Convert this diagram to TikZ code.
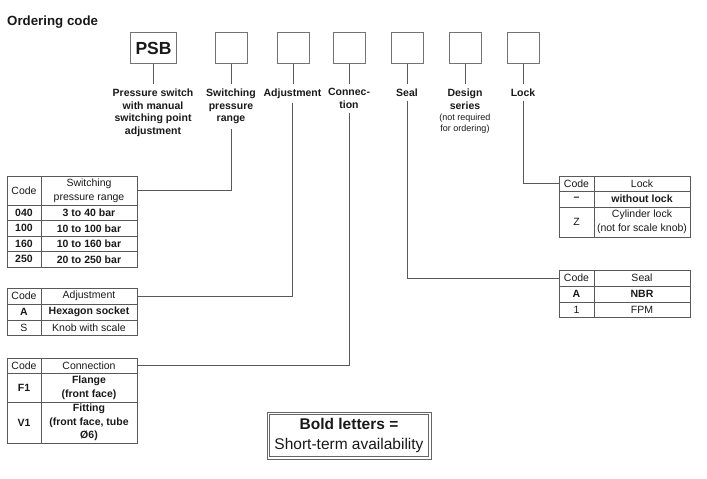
\documentclass[tikz,border=0pt]{standalone}
\usepackage{fontspec}
\setmainfont{Liberation Sans}
\begin{document}
\begin{tikzpicture}[x=1pt,y=-1pt,
  txt/.style={text=black!90},
  lbl/.style={txt,font=\fontsize{10.5}{12.9}\selectfont\bfseries, align=center, inner sep=0pt, outer ysep=4.5pt, anchor=north},
  cbox/.style={draw=black!55, line width=1.1pt, minimum height=31pt, inner sep=0pt, anchor=north west},
  conn/.style={draw=black!65, line width=0.8pt},
  cell/.style 2 args={txt,draw=black!65, line width=0.9pt, inner sep=0pt, outer sep=0pt, anchor=north west, align=center,
    minimum width=#1pt, minimum height=#2pt, font=\fontsize{10.5}{13.6}\selectfont},
  bcell/.style 2 args={cell={#1}{#2}, font=\fontsize{10.5}{13.6}\selectfont\bfseries},
  note/.style={draw=black!60, line width=0.8pt, inner sep=0pt,
    minimum width=164pt, minimum height=47pt, align=center, txt, font=\fontsize{15.5}{20}\selectfont}
]
\useasboundingbox (0,0) rectangle (707,479);

\node[txt, anchor=base west, inner sep=0pt, font=\fontsize{13.3}{16}\selectfont\bfseries] (title) at (7,25) {Ordering code};

% code boxes
\node[cbox, minimum width=46pt, font=\fontsize{17.5}{20}\selectfont\bfseries, txt] (b1) at (130,32) {PSB};
\node[cbox, minimum width=32pt] (b2) at (215,32) {};
\node[cbox, minimum width=32pt] (b3) at (277,32) {};
\node[cbox, minimum width=32pt] (b4) at (333,32) {};
\node[cbox, minimum width=32pt] (b5) at (391,32) {};
\node[cbox, minimum width=32pt] (b6) at (449,32) {};
\node[cbox, minimum width=32pt] (b7) at (507,32) {};

% labels
\node[lbl] (l1) at (153,84) {Pressure switch\\with manual\\switching point\\adjustment};
\node[lbl] (l2) at (231,84) {Switching\\pressure\\range};
\node[lbl] (l3) at (292.5,84) {Adjustment};
\node[lbl] (l4) at (349,84) {Connec-\\tion};
\node[lbl] (l5) at (407,84) {Seal};
\node[lbl] (l6) at (465,84) {Design\\series};
\node[txt, anchor=north, inner sep=0pt, align=center, font=\fontsize{9}{11}\selectfont] (l6n) at (465,114) {(not required\\for ordering)};
\node[lbl] (l7) at (523,84) {Lock};

\foreach \i in {1,...,7} {\draw[conn] (b\i.south) -- (b\i.south |- l\i.north);}

% switching pressure range table
\node[cell={34}{29}] (spc) at (7,176) {Code};
\node[cell={96}{29}] (sph) at (41,176) {Switching\\pressure range};
\node[bcell={34}{15.5}] (sp1a) at (7,205) {040};
\node[bcell={96}{15.5}] (sp1b) at (41,205) {3 to 40 bar};
\node[bcell={34}{15.5}] (sp2a) at (7,220.5) {100};
\node[bcell={96}{15.5}] (sp2b) at (41,220.5) {10 to 100 bar};
\node[bcell={34}{15.5}] (sp3a) at (7,236) {160};
\node[bcell={96}{15.5}] (sp3b) at (41,236) {10 to 160 bar};
\node[bcell={34}{15.5}] (sp4a) at (7,251.5) {250};
\node[bcell={96}{15.5}] (sp4b) at (41,251.5) {20 to 250 bar};

% adjustment table
\node[cell={34}{16}] (adc) at (7,288) {Code};
\node[cell={96}{16}] (adh) at (41,288) {Adjustment};
\node[bcell={34}{16}] (ad1a) at (7,304) {A};
\node[bcell={96}{16}] (ad1b) at (41,304) {Hexagon socket};
\node[cell={34}{15}] (ad2a) at (7,320) {S};
\node[cell={96}{15}] (ad2b) at (41,320) {Knob with scale};

% connection table
\node[cell={34}{15}] (coc) at (7,358) {Code};
\node[cell={96}{15}] (coh) at (41,358) {Connection};
\node[bcell={34}{29}] (co1a) at (7,373) {F1};
\node[bcell={96}{29}] (co1b) at (41,373) {Flange\\(front face)};
\node[bcell={34}{41}] (co2a) at (7,402) {V1};
\node[bcell={96}{41}] (co2b) at (41,402) {Fitting\\(front face, tube\\Ø6)};

% lock table
\node[cell={35}{15}] (lkc) at (559,176) {Code};
\node[cell={96}{15}] (lkh) at (594,176) {Lock};
\node[bcell={35}{16}] (lk1a) at (559,191) {–};
\node[bcell={96}{16}] (lk1b) at (594,191) {without lock};
\node[cell={35}{30}] (lk2a) at (559,207) {Z};
\node[cell={96}{30}] (lk2b) at (594,207) {Cylinder lock\\(not for scale knob)};

% seal table
\node[cell={35}{16}] (sec) at (559,270) {Code};
\node[cell={96}{16}] (seh) at (594,270) {Seal};
\node[bcell={35}{16}] (se1a) at (559,286) {A};
\node[bcell={96}{16}] (se1b) at (594,286) {NBR};
\node[cell={35}{15}] (se2a) at (559,302) {1};
\node[cell={96}{15}] (se2b) at (594,302) {FPM};

% connectors to tables
\draw[conn] (l2.south) |- (sph.east);
\draw[conn] (l3.south) |- (adh.east);
\draw[conn] (l4.south) |- (coh.east);
\draw[conn] (l5.south) |- (sec.west);
\draw[conn] (l7.south) |- (lkc.west);

% legend
\node[note] (legend) at (349,435.5) {\textbf{Bold letters =}\\Short-term availability};
\draw[draw=black!60, line width=0.8pt] ([xshift=3pt,yshift=-3pt]legend.north west) rectangle ([xshift=-3pt,yshift=3pt]legend.south east);
\end{tikzpicture}
\end{document}
